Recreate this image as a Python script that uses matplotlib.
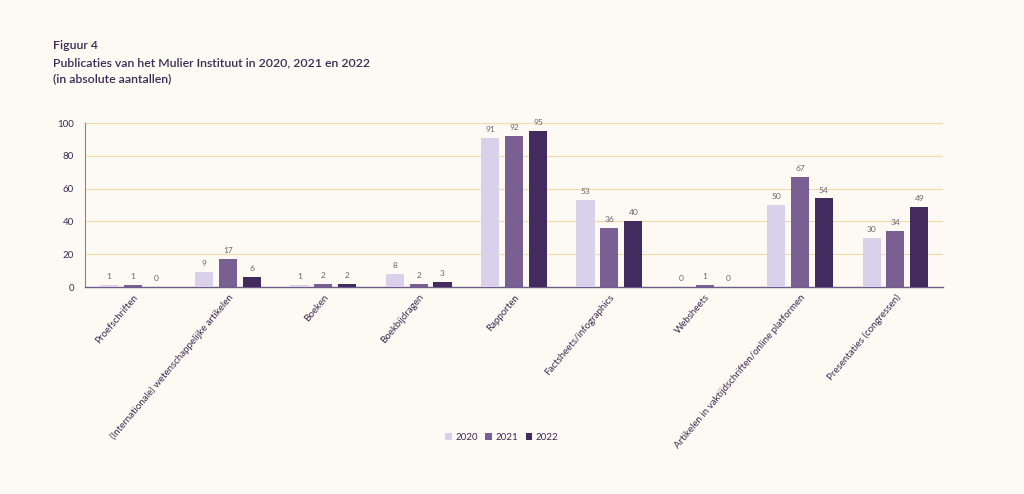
import matplotlib
matplotlib.use("Agg")
import matplotlib.pyplot as plt
import numpy as np

categories = [
    "Proefschriften",
    "(Internationale) wetenschappelijke artikelen",
    "Boeken",
    "Boekbijdragen",
    "Rapporten",
    "Factsheets/infographics",
    "Websheets",
    "Artikelen in vaktijdschriften/online platformen",
    "Presentaties (congressen)",
]
years = ["2020", "2021", "2022"]
values_2020 = [1, 9, 1, 8, 91, 53, 0, 50, 30]
values_2021 = [1, 17, 2, 2, 92, 36, 1, 67, 34]
values_2022 = [0, 6, 2, 3, 95, 40, 0, 54, 49]
yticks = [0, 20, 40, 60, 80, 100]

colors = ["#d9d1e9", "#7a5f92", "#442b5e"]
bg = "#fdfaf3"
text_col = "#3b2a52"

plt.rcParams["font.family"] = ["Lato", "DejaVu Sans"]

fig = plt.figure(figsize=(10.24, 4.94), dpi=100)
fig.patch.set_facecolor(bg)
ax = fig.add_axes([0.083, 0.419, 0.838, 0.332])
ax.set_facecolor(bg)

x = np.arange(len(categories))
width = 0.19
step = 0.25
series = [values_2020, values_2021, values_2022]
for i, (vals, col, yr) in enumerate(zip(series, colors, years)):
    pos = x + (i - 1) * step
    ax.bar(pos, vals, width, color=col, label=yr, zorder=3)
    for p, v in zip(pos, vals):
        ax.text(p, v + 3, str(v), ha="center", va="bottom",
                fontsize=6, color="#6a6470")

ax.set_xlim(-0.5, len(categories) - 0.5)
ax.set_ylim(0, 100)
ax.set_yticks(yticks)
ax.yaxis.grid(True, color="#f3d9a8", linewidth=0.8, zorder=0)
ax.tick_params(axis="y", length=0, labelsize=7, colors=text_col, pad=8)
ax.tick_params(axis="x", length=0, pad=4)
ax.set_xticks(x)
ax.set_xticklabels(categories, rotation=50, ha="right", rotation_mode="anchor",
                   fontsize=7, color=text_col)

for s in ["top", "right"]:
    ax.spines[s].set_visible(False)
ax.spines["left"].set_color("#8a80a0")
ax.spines["bottom"].set_color("#6e5c8c")
ax.spines["left"].set_linewidth(0.8)
ax.spines["bottom"].set_linewidth(1.0)

title_lines = [
    "Figuur 4",
    "Publicaties van het Mulier Instituut in 2020, 2021 en 2022",
    "(in absolute aantallen)",
]
for k, line in enumerate(title_lines):
    fig.text(0.052, 0.907 - k * 0.0335, line, fontsize=8.8, fontweight="semibold",
             color=text_col, va="center")

fig.legend(loc="center", bbox_to_anchor=(0.49, 0.115), ncol=3, frameon=False,
           fontsize=7, handlelength=0.7, handleheight=0.7, handletextpad=0.3,
           columnspacing=0.8, labelcolor=text_col)

fig.savefig("out.png", dpi=100, facecolor=bg)
